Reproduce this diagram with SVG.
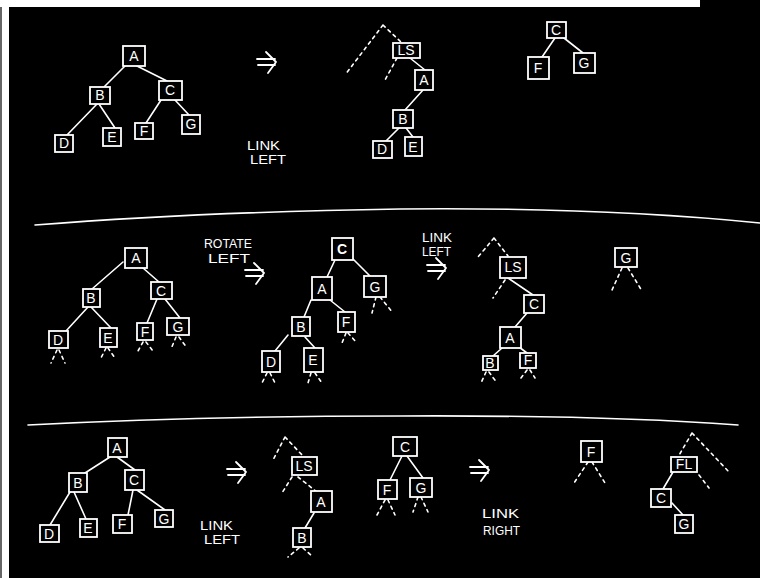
<svg xmlns="http://www.w3.org/2000/svg" width="760" height="578" viewBox="0 0 760 578">
<style>
.n{fill:#000;stroke:#fff;stroke-width:1.8}
.t{fill:#fff;font-family:"Liberation Sans",sans-serif;font-size:14px;text-anchor:middle}
.s{fill:#fff;font-family:"Liberation Sans",sans-serif;font-size:12px}
.l{stroke:#fff;stroke-width:1.6;stroke-linecap:round;fill:none}
.d{stroke:#fff;stroke-width:1.6;stroke-linecap:round;fill:none;stroke-dasharray:3 4}
.ar{stroke:#fff;stroke-width:1.8;stroke-linecap:round;stroke-linejoin:round;fill:none}
</style>
<defs>
<path id="arrow" d="M0,7 H18 M1,13 H18 M9,0 L19,10 L11,21"/>
</defs>
<rect x="0" y="0" width="760" height="578" fill="#000"/>
<rect x="0" y="0" width="9" height="578" fill="#fff"/>
<rect x="0" y="0" width="2" height="578" fill="#666"/>
<rect x="0" y="0" width="700" height="7" fill="#fff"/>

<g id="dividers" class="l">
<path d="M35,225 Q200,212 400,209 Q600,207 760,223"/>
<path d="M28,425 Q200,416 400,416 Q600,415 738,425"/>
</g>

<g id="arrows" class="ar">
<use href="#arrow" x="257" y="52"/>
<use href="#arrow" x="245" y="263"/>
<use href="#arrow" x="427" y="258"/>
<use href="#arrow" x="227" y="462"/>
<use href="#arrow" x="470" y="460"/>
</g>

<g id="connectors">
<g class="l">
<path d="M125,66L104,87M137,66L167,81M97,104L67,135M99,104L115,128M161,100L146,123M175,100L189,115"/>
<path d="M410,58L425,70M423,90L405,110M399,128L386,141M406,128L413,137"/>
<path d="M555,38L542,57M564,38L583,53"/>
<path d="M123,262L92,289M143,268L159,282M88,307L66,331M91,307L111,328M157,299L147,323M165,299L180,318"/>
<path d="M335,260L327,277M352,258L370,276M311,300L304,317M330,300L345,312M288,335L275,351M305,337L315,348"/>
<path d="M508,278L533,295M527,313L515,327M502,348L493,356M519,347L527,353"/>
<path d="M110,457L85,473M117,457L135,470M70,492L50,525M74,492L86,519M133,490L128,515M137,490L165,510"/>
<path d="M314,513L305,528"/>
<path d="M402,456L390,480M407,456L423,478"/>
<path d="M673,472L663,489M672,503L683,515"/>
</g>
<g class="d">
<path d="M383,25L345,75M383,25L402,43M397,58L385,80"/>
<path d="M57,350L51,363M59,350L65,363M106,348L101,358M108,348L115,358M143,342L138,351M146,342L153,351M176,337L171,349M179,337L187,348"/>
<path d="M376,297L372,313M380,297L393,313M346,333L342,343M348,333L357,343M267,373L261,385M270,373L276,385M311,373L308,383M315,373L322,383"/>
<path d="M494,238L478,257M494,238L508,256M505,280L493,298M486,372L481,383M489,372L497,383M527,370L521,378M530,370L535,378"/>
<path d="M622,268L612,290M628,268L642,291"/>
<path d="M285,437L273,460M285,437L304,457M292,477L282,493M298,477L317,492M299,548L288,557M303,548L313,557"/>
<path d="M385,500L377,515M388,500L395,515M418,497L413,512M421,497L428,512"/>
<path d="M588,462L574,483M592,462L605,483"/>
<path d="M692,433L678,457M692,433L730,473M699,475L709,488"/>
</g>
</g>

<g id="labels">
<text class="s" x="247" y="150" textLength="33" lengthAdjust="spacingAndGlyphs">LINK</text>
<text class="s" x="250" y="164" textLength="36" lengthAdjust="spacingAndGlyphs">LEFT</text>
<text class="s" x="204" y="248" textLength="48" lengthAdjust="spacingAndGlyphs">ROTATE</text>
<text class="s" x="208" y="263" textLength="42" lengthAdjust="spacingAndGlyphs">LEFT</text>
<text class="s" x="422" y="242" textLength="30" lengthAdjust="spacingAndGlyphs">LINK</text>
<text class="s" x="422" y="256" textLength="29" lengthAdjust="spacingAndGlyphs">LEFT</text>
<text class="s" x="200" y="530" textLength="33" lengthAdjust="spacingAndGlyphs">LINK</text>
<text class="s" x="204" y="544" textLength="36" lengthAdjust="spacingAndGlyphs">LEFT</text>
<text class="s" x="482" y="518" textLength="37" lengthAdjust="spacingAndGlyphs">LINK</text>
<text class="s" x="483" y="535" textLength="37" lengthAdjust="spacingAndGlyphs">RIGHT</text>
</g>

<g id="p1a-A"><rect class="n" x="123" y="46" width="22" height="20"/><text class="t" x="134" y="61">A</text></g>
<g id="p1a-B"><rect class="n" x="90" y="87" width="20" height="17"/><text class="t" x="100" y="100">B</text></g>
<g id="p1a-C"><rect class="n" x="159" y="81" width="23" height="19"/><text class="t" x="170" y="95">C</text></g>
<g id="p1a-D"><rect class="n" x="55" y="135" width="18" height="17"/><text class="t" x="64" y="148">D</text></g>
<g id="p1a-E"><rect class="n" x="103" y="128" width="18" height="18"/><text class="t" x="112" y="142">E</text></g>
<g id="p1a-F"><rect class="n" x="135" y="123" width="18" height="16"/><text class="t" x="144" y="136">F</text></g>
<g id="p1a-G"><rect class="n" x="182" y="115" width="18" height="19"/><text class="t" x="191" y="129">G</text></g>

<g id="p1b-LS"><rect class="n" x="393" y="43" width="27" height="15"/><text class="t" x="406" y="55" font-size="11">LS</text></g>
<g id="p1b-A"><rect class="n" x="415" y="70" width="18" height="20"/><text class="t" x="424" y="85">A</text></g>
<g id="p1b-B"><rect class="n" x="393" y="110" width="20" height="18"/><text class="t" x="403" y="124">B</text></g>
<g id="p1b-D"><rect class="n" x="373" y="141" width="19" height="17"/><text class="t" x="382" y="154">D</text></g>
<g id="p1b-E"><rect class="n" x="405" y="137" width="17" height="19"/><text class="t" x="413" y="152">E</text></g>

<g id="p1c-C"><rect class="n" x="547" y="22" width="19" height="16"/><text class="t" x="556" y="35">C</text></g>
<g id="p1c-F"><rect class="n" x="528" y="57" width="21" height="22"/><text class="t" x="538" y="73">F</text></g>
<g id="p1c-G"><rect class="n" x="574" y="53" width="21" height="20"/><text class="t" x="584" y="68">G</text></g>

<g id="p2a-A"><rect class="n" x="125" y="248" width="22" height="20"/><text class="t" x="136" y="263">A</text></g>
<g id="p2a-B"><rect class="n" x="83" y="289" width="17" height="18"/><text class="t" x="91" y="303">B</text></g>
<g id="p2a-C"><rect class="n" x="151" y="282" width="21" height="17"/><text class="t" x="161" y="296">C</text></g>
<g id="p2a-D"><rect class="n" x="49" y="331" width="19" height="17"/><text class="t" x="58" y="345">D</text></g>
<g id="p2a-E"><rect class="n" x="100" y="328" width="17" height="19"/><text class="t" x="108" y="343">E</text></g>
<g id="p2a-F"><rect class="n" x="137" y="323" width="16" height="17"/><text class="t" x="145" y="337">F</text></g>
<g id="p2a-G"><rect class="n" x="167" y="318" width="22" height="17"/><text class="t" x="178" y="332">G</text></g>

<g id="p2b-C"><rect class="n" x="332" y="238" width="21" height="22"/><text class="t" x="342" y="254" font-weight="bold">C</text></g>
<g id="p2b-A"><rect class="n" x="312" y="277" width="20" height="23"/><text class="t" x="322" y="294">A</text></g>
<g id="p2b-G"><rect class="n" x="364" y="276" width="22" height="21"/><text class="t" x="375" y="292">G</text></g>
<g id="p2b-B"><rect class="n" x="292" y="317" width="18" height="19"/><text class="t" x="301" y="332">B</text></g>
<g id="p2b-F"><rect class="n" x="338" y="312" width="17" height="20"/><text class="t" x="346" y="327">F</text></g>
<g id="p2b-D"><rect class="n" x="262" y="351" width="18" height="21"/><text class="t" x="271" y="367">D</text></g>
<g id="p2b-E"><rect class="n" x="304" y="348" width="19" height="24"/><text class="t" x="313" y="365">E</text></g>

<g id="p2c-LS"><rect class="n" x="500" y="257" width="26" height="21"/><text class="t" x="513" y="272" font-size="13">LS</text></g>
<g id="p2c-C"><rect class="n" x="524" y="295" width="20" height="18"/><text class="t" x="534" y="309">C</text></g>
<g id="p2c-A"><rect class="n" x="500" y="327" width="21" height="21"/><text class="t" x="510" y="343">A</text></g>
<g id="p2c-B"><rect class="n" x="483" y="356" width="15" height="14"/><text class="t" x="490" y="368" font-size="13">B</text></g>
<g id="p2c-F"><rect class="n" x="520" y="353" width="16" height="15"/><text class="t" x="528" y="365" font-size="13">F</text></g>
<g id="p2d-G"><rect class="n" x="615" y="248" width="22" height="19"/><text class="t" x="626" y="263">G</text></g>

<g id="p3a-A"><rect class="n" x="108" y="438" width="19" height="19"/><text class="t" x="117" y="453">A</text></g>
<g id="p3a-B"><rect class="n" x="69" y="473" width="18" height="19"/><text class="t" x="78" y="488">B</text></g>
<g id="p3a-C"><rect class="n" x="125" y="470" width="19" height="20"/><text class="t" x="134" y="485">C</text></g>
<g id="p3a-D"><rect class="n" x="40" y="525" width="19" height="17"/><text class="t" x="49" y="539">D</text></g>
<g id="p3a-E"><rect class="n" x="80" y="519" width="17" height="18"/><text class="t" x="88" y="533">E</text></g>
<g id="p3a-F"><rect class="n" x="113" y="515" width="19" height="18"/><text class="t" x="122" y="529">F</text></g>
<g id="p3a-G"><rect class="n" x="155" y="510" width="18" height="17"/><text class="t" x="164" y="524">G</text></g>

<g id="p3b-LS"><rect class="n" x="292" y="457" width="25" height="18"/><text class="t" x="304" y="471" font-size="13">LS</text></g>
<g id="p3b-A"><rect class="n" x="311" y="491" width="21" height="21"/><text class="t" x="321" y="507">A</text></g>
<g id="p3b-B"><rect class="n" x="293" y="528" width="18" height="19"/><text class="t" x="302" y="543">B</text></g>

<g id="p3c-C"><rect class="n" x="393" y="437" width="24" height="19"/><text class="t" x="405" y="452">C</text></g>
<g id="p3c-F"><rect class="n" x="378" y="480" width="19" height="19"/><text class="t" x="387" y="495">F</text></g>
<g id="p3c-G"><rect class="n" x="410" y="478" width="22" height="19"/><text class="t" x="421" y="493">G</text></g>

<g id="p3d-F"><rect class="n" x="581" y="441" width="21" height="21"/><text class="t" x="591" y="457">F</text></g>

<g id="p3e-FL"><rect class="n" x="671" y="457" width="26" height="15"/><text class="t" x="684" y="469" font-size="11">FL</text></g>
<g id="p3e-C"><rect class="n" x="651" y="489" width="20" height="18"/><text class="t" x="661" y="503">C</text></g>
<g id="p3e-G"><rect class="n" x="675" y="515" width="18" height="18"/><text class="t" x="684" y="529">G</text></g>
</svg>
